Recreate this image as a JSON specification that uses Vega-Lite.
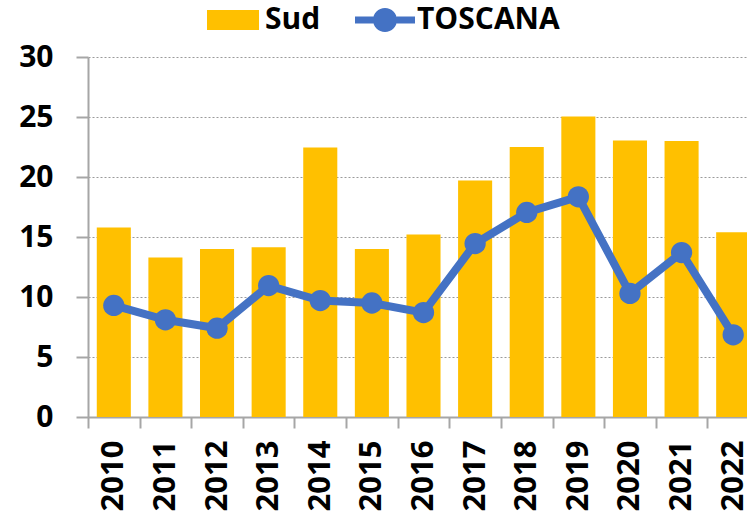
{
  "$schema": "https://vega.github.io/schema/vega-lite/v6.json",
  "width": 659,
  "height": 360,
  "autosize": {"type": "none"},
  "padding": {"left": 88, "top": 57, "right": 0, "bottom": 99},
  "background": "white",
  "config": {"view": {"stroke": null}, "font": "Open Sans"},
  "data": {
    "values": [
      {"year": "2010", "Sud": 15.8, "TOSCANA": 9.3},
      {"year": "2011", "Sud": 13.3, "TOSCANA": 8.1},
      {"year": "2012", "Sud": 14.0, "TOSCANA": 7.4},
      {"year": "2013", "Sud": 14.15, "TOSCANA": 10.95},
      {"year": "2014", "Sud": 22.45, "TOSCANA": 9.7},
      {"year": "2015", "Sud": 14.0, "TOSCANA": 9.5},
      {"year": "2016", "Sud": 15.2, "TOSCANA": 8.7},
      {"year": "2017", "Sud": 19.7, "TOSCANA": 14.45},
      {"year": "2018", "Sud": 22.5, "TOSCANA": 17.05},
      {"year": "2019", "Sud": 25.05, "TOSCANA": 18.35},
      {"year": "2020", "Sud": 23.05, "TOSCANA": 10.3},
      {"year": "2021", "Sud": 23.0, "TOSCANA": 13.7},
      {"year": "2022", "Sud": 15.4, "TOSCANA": 6.85}
    ]
  },
  "encoding": {
    "x": {
      "field": "year",
      "type": "ordinal",
      "scale": {"range": [0, 671], "paddingInner": 0, "paddingOuter": 0},
      "axis": {
        "title": null,
        "labelAngle": -90,
        "labelFont": "Open Sans",
        "labelFontSize": 31,
        "labelFontWeight": "bold",
        "labelColor": "#000000",
        "labelPadding": 12,
        "tickBand": "extent",
        "tickSize": 11,
        "tickColor": "#A6A6A6",
        "tickWidth": 2,
        "domainColor": "#A6A6A6",
        "domainWidth": 2,
        "grid": false
      }
    }
  },
  "layer": [
    {
      "mark": {"type": "bar", "width": {"band": 0.66}},
      "encoding": {
        "y": {
          "field": "Sud",
          "type": "quantitative",
          "scale": {"domain": [0, 30]},
          "axis": {
            "title": null,
            "values": [0, 5, 10, 15, 20, 25, 30],
            "labelFont": "Open Sans",
            "labelFontSize": 30,
            "labelFontWeight": "bold",
            "labelColor": "#000000",
            "labelPadding": 23,
            "tickSize": 12,
            "tickColor": "#A6A6A6",
            "tickWidth": 2,
            "domainColor": "#A6A6A6",
            "domainWidth": 2,
            "grid": true,
            "gridColor": "#9A9A9A",
            "gridDash": [2, 2],
            "gridWidth": 1
          }
        },
        "fill": {
          "datum": "Sud",
          "type": "nominal",
          "scale": {"domain": ["Sud", "TOSCANA"], "range": ["#FFC000", "#4472C4"]},
          "legend": {
            "title": null,
            "orient": "none",
            "direction": "horizontal",
            "legendX": 125,
            "legendY": -57,
            "padding": 0,
            "symbolSize": 1600,
            "symbolStrokeWidth": 0,
            "symbolOpacity": 1,
            "labelFont": "Open Sans",
            "labelFontSize": 30,
            "labelFontWeight": "bold",
            "labelColor": "#000000",
            "labelOffset": 12,
            "columnPadding": 34,
            "encode": {
              "symbols": {
                "update": {
                  "shape": {"signal": "datum.value === 'Sud' ? 'M-1.3,-0.5H1.3V0.5H-1.3Z' : 'M-1.5,-0.175H-0.58V0.175H-1.5Z M0.58,-0.175H1.5V0.175H0.58Z M0.6,0A0.6,0.6 0 1 1 -0.6,0A0.6,0.6 0 1 1 0.6,0Z'"},
                  "strokeWidth": {"value": 0}
                }
              }
            }
          }
        }
      }
    },
    {
      "mark": {"type": "line", "color": "#4472C4", "strokeWidth": 8},
      "encoding": {
        "y": {"field": "TOSCANA", "type": "quantitative"}
      }
    },
    {
      "mark": {"type": "point", "filled": true, "size": 452, "color": "#4472C4", "opacity": 1},
      "encoding": {
        "y": {"field": "TOSCANA", "type": "quantitative"}
      }
    }
  ]
}
